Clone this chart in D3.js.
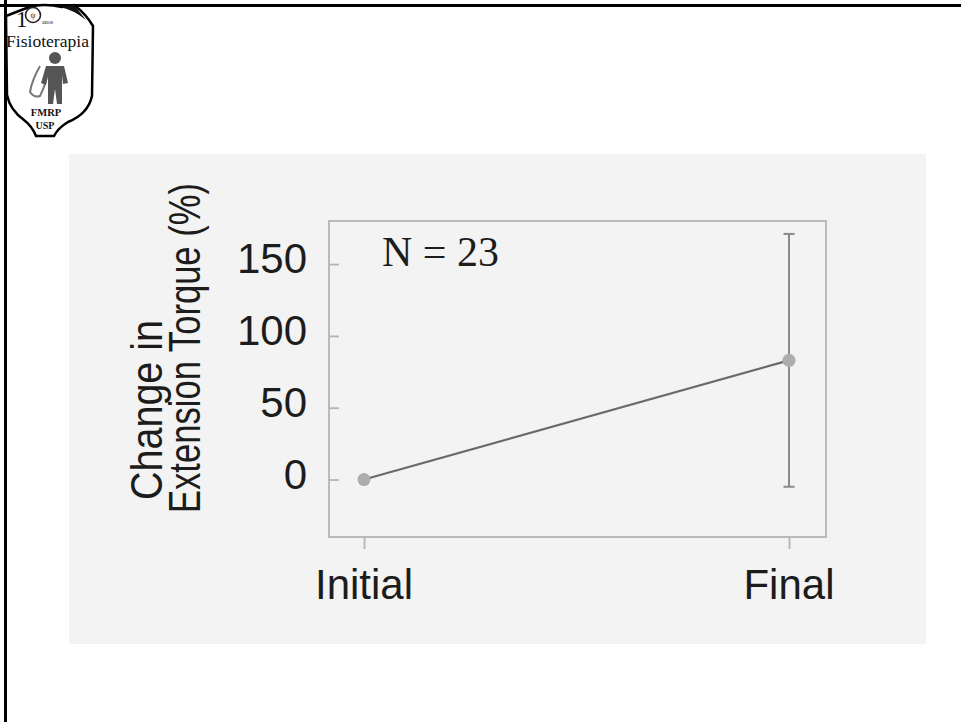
<!DOCTYPE html>
<html>
<head>
<meta charset="utf-8">
<script src="https://cdn.jsdelivr.net/npm/d3@7/dist/d3.min.js"></script>
<style>
  html, body { margin: 0; padding: 0; background: #ffffff; }
  svg { display: block; }
</style>
</head>
<body>
<script>
// ---- data ----
const categories = ["Initial", "Final"];
const meanValues = [0, 83];
const sdValues = [0, 88];
const yTickValues = [0, 50, 100, 150];
const yTitleLines = ["Change in", "Extension Torque (%)"];
const annotation = "N = 23";

const W = 961, H = 722;
const svg = d3.select("body").append("svg").attr("width", W).attr("height", H);

// slide background and frame lines
svg.append("rect").attr("x", 0).attr("y", 0).attr("width", W).attr("height", H).attr("fill", "#ffffff");
svg.append("rect").attr("x", 69).attr("y", 154).attr("width", 857).attr("height", 490).attr("fill", "#f3f3f3");
svg.append("line").attr("x1", 0).attr("x2", W).attr("y1", 5.5).attr("y2", 5.5).attr("stroke", "#000").attr("stroke-width", 3);
svg.append("line").attr("x1", 5.5).attr("x2", 5.5).attr("y1", 0).attr("y2", H).attr("stroke", "#000").attr("stroke-width", 3);

// ---- logo ----
const logo = svg.append("g");
logo.append("path")
  .attr("d", "M6,16 L24,9 Q40,2 62,7 L74,5 Q86,14 93,26 L92,96 Q88,114 68,122 Q58,128 54,136 L36,136 Q32,126 24,120 Q10,110 7,95 Z")
  .attr("fill", "#fff").attr("stroke", "#000").attr("stroke-width", 2.5);
logo.append("path").attr("d", "M60,7 Q74,10 86,20 L74,5 Z").attr("fill", "#111");
logo.append("text").attr("x", 16).attr("y", 27).attr("font-family", "Liberation Serif").attr("font-size", 23).attr("fill", "#111").text("1");
logo.append("circle").attr("cx", 33).attr("cy", 15).attr("r", 7.5).attr("fill", "#fff").attr("stroke", "#222").attr("stroke-width", 1.6);
logo.append("text").attr("x", 33).attr("y", 18).attr("text-anchor", "middle").attr("font-family", "Liberation Serif").attr("font-size", 8).attr("fill", "#222").text("ψ");
logo.append("text").attr("x", 42).attr("y", 24).attr("font-family", "Liberation Serif").attr("font-size", 6).attr("fill", "#222").text("anos");
logo.append("text").attr("x", 6).attr("y", 47).attr("font-family", "Liberation Serif").attr("font-size", 16)
  .attr("textLength", 83).attr("lengthAdjust", "spacingAndGlyphs").attr("fill", "#111").text("Fisioterapia");
// figure
logo.append("path").attr("d", "M40,66 Q32,80 30,92 Q34,98 40,96 Q46,84 48,72").attr("fill", "none").attr("stroke", "#777").attr("stroke-width", 2);
logo.append("circle").attr("cx", 55).attr("cy", 58).attr("r", 6).attr("fill", "#555");
logo.append("path").attr("d", "M46,66 L64,66 L68,83 L63,84 L62,75 L62,104 L57,104 L55,89 L53,104 L48,104 L48,75 L46,85 L41,83 Z").attr("fill", "#555");
logo.append("text").attr("x", 46).attr("y", 116).attr("text-anchor", "middle").attr("font-family", "Liberation Serif").attr("font-weight", "bold").attr("font-size", 10.5).attr("fill", "#111").text("FMRP");
logo.append("text").attr("x", 45).attr("y", 129).attr("text-anchor", "middle").attr("font-family", "Liberation Serif").attr("font-weight", "bold").attr("font-size", 10).attr("fill", "#111").text("USP");

// ---- chart ----
const frame = { left: 329, right: 826, top: 221, bottom: 537 };
const x = d3.scalePoint().domain(categories).range([frame.left + 35, frame.right - 37]);
const y = d3.scaleLinear().domain([-40, 180]).range([frame.bottom, frame.top]);

const frameColor = "#b4b4b4";
svg.append("rect").attr("x", frame.left).attr("y", frame.top)
  .attr("width", frame.right - frame.left).attr("height", frame.bottom - frame.top)
  .attr("fill", "none").attr("stroke", frameColor).attr("stroke-width", 1.8);

// y axis (ticks inside frame)
const yAxis = d3.axisRight(y).tickValues(yTickValues).tickSize(10).tickFormat("");
const yg = svg.append("g").attr("transform", `translate(${frame.left},0)`).call(yAxis);
yg.select(".domain").remove();
yg.selectAll(".tick line").attr("stroke", frameColor).attr("stroke-width", 1.8);
svg.append("g").selectAll("text").data(yTickValues).join("text")
  .attr("x", frame.left - 22).attr("y", d => y(d) + 9)
  .attr("text-anchor", "end")
  .attr("font-family", "'Liberation Sans', Arial, sans-serif").attr("font-size", 42)
  .attr("fill", "#1c1c1c").text(d => d);

// x axis (ticks below frame)
const xAxis = d3.axisBottom(x).tickSize(12).tickFormat("");
const xg = svg.append("g").attr("transform", `translate(0,${frame.bottom})`).call(xAxis);
xg.select(".domain").remove();
xg.selectAll(".tick line").attr("stroke", frameColor).attr("stroke-width", 1.8);
svg.append("g").selectAll("text").data(categories).join("text")
  .attr("x", d => x(d)).attr("y", 599)
  .attr("text-anchor", "middle")
  .attr("font-family", "'Liberation Sans', Arial, sans-serif").attr("font-size", 42)
  .attr("fill", "#1c1c1c").text(d => d);

// y title
const titleG = svg.append("g");
const titlePos = [{ bx: 162, sy: 500, len: 180 }, { bx: 200, sy: 513, len: 330 }];
yTitleLines.forEach((t, i) => {
  titleG.append("text")
    .attr("transform", `translate(${titlePos[i].bx},${titlePos[i].sy}) rotate(-90)`)
    .attr("font-family", "'Liberation Sans', Arial, sans-serif").attr("font-size", 44)
    .attr("textLength", titlePos[i].len).attr("lengthAdjust", "spacingAndGlyphs")
    .attr("fill", "#1c1c1c").text(t);
});

// data
const pts = categories.map((c, i) => ({ c, m: meanValues[i], sd: sdValues[i] }));
svg.append("path").datum(pts)
  .attr("d", d3.line().x(d => x(d.c)).y(d => y(d.m)))
  .attr("fill", "none").attr("stroke", "#6a6a6a").attr("stroke-width", 2.2);

const eb = svg.append("g").selectAll("g").data(pts.filter(d => d.sd > 0)).join("g");
eb.append("line").attr("x1", d => x(d.c)).attr("x2", d => x(d.c))
  .attr("y1", d => y(d.m + d.sd)).attr("y2", d => y(d.m - d.sd))
  .attr("stroke", "#8a8a8a").attr("stroke-width", 2);
eb.append("line").attr("x1", d => x(d.c) - 5.5).attr("x2", d => x(d.c) + 5.5)
  .attr("y1", d => y(d.m + d.sd)).attr("y2", d => y(d.m + d.sd))
  .attr("stroke", "#8a8a8a").attr("stroke-width", 2);
eb.append("line").attr("x1", d => x(d.c) - 5.5).attr("x2", d => x(d.c) + 5.5)
  .attr("y1", d => y(d.m - d.sd)).attr("y2", d => y(d.m - d.sd))
  .attr("stroke", "#8a8a8a").attr("stroke-width", 2);

svg.append("g").selectAll("circle").data(pts).join("circle")
  .attr("cx", d => x(d.c)).attr("cy", d => y(d.m)).attr("r", 6.5)
  .attr("fill", "#adadad");

// annotation
svg.append("text").attr("x", 382).attr("y", 266)
  .attr("font-family", "'Liberation Serif', 'Times New Roman', serif").attr("font-size", 42)
  .attr("fill", "#1c1c1c").text(annotation);
</script>
</body>
</html>
